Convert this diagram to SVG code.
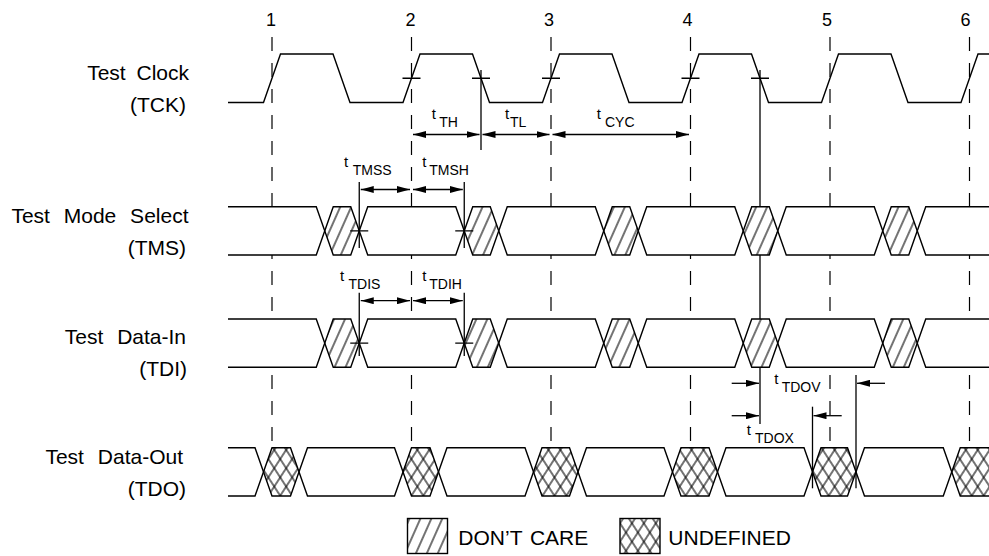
<svg xmlns="http://www.w3.org/2000/svg" xmlns:xlink="http://www.w3.org/1999/xlink" width="989" height="556" viewBox="0 0 989 556">
<style>
.lbl{font-family:"Liberation Sans",Arial,sans-serif;font-size:21px;fill:#000;word-spacing:8px}
.num{font-family:"Liberation Sans",Arial,sans-serif;font-size:18px;fill:#000;text-anchor:middle}
.tm{font-family:"Liberation Sans",Arial,sans-serif;font-size:15px;fill:#000}
.sub{font-size:14px}
.sig{fill:none;stroke:#000;stroke-width:1.4;stroke-linejoin:miter}
.dash{stroke:#000;stroke-width:1.2;stroke-dasharray:14 12;fill:none}
.ln{stroke:#000;stroke-width:1.3;fill:none}
.arr{stroke:#000;stroke-width:1.3;fill:none;marker-start:url(#ah);marker-end:url(#ah)}
.arr1{stroke:#000;stroke-width:1.3;fill:none;marker-end:url(#ah)}
.bg{fill:#fff;stroke:none}
.dc{fill:url(#hatch);stroke:none}
.xa{fill:url(#xa);stroke:none}
.xb{fill:url(#xb);stroke:none}
</style>
<defs>
<marker id="ah" markerUnits="userSpaceOnUse" markerWidth="13" markerHeight="7" refX="13" refY="3.5" orient="auto-start-reverse">
<path d="M0,0 L13,3.5 L0,7 z" fill="#000"/>
</marker>
<pattern id="hatch" width="10" height="10" patternUnits="userSpaceOnUse" patternTransform="rotate(24)">
<line x1="5" y1="-1" x2="5" y2="11" stroke="#000" stroke-width="1.1"/>
</pattern>
<pattern id="xa" width="10" height="10" patternUnits="userSpaceOnUse" patternTransform="rotate(33)">
<line x1="5" y1="-1" x2="5" y2="11" stroke="#000" stroke-width="1.1"/>
</pattern>
<pattern id="xb" width="10" height="10" patternUnits="userSpaceOnUse" patternTransform="rotate(-33)">
<line x1="5" y1="-1" x2="5" y2="11" stroke="#000" stroke-width="1.1"/>
</pattern>
</defs>
<rect width="989" height="556" fill="#fff"/>

<g id="labels">
<text class="lbl" x="189" y="80" text-anchor="end" style="word-spacing:5px">Test Clock</text>
<text class="lbl" x="186" y="111.7" text-anchor="end">(TCK)</text>
<text class="lbl" x="188.5" y="222.7" text-anchor="end">Test Mode Select</text>
<text class="lbl" x="186" y="255" text-anchor="end">(TMS)</text>
<text class="lbl" x="186" y="344" text-anchor="end">Test Data-In</text>
<text class="lbl" x="187" y="375.5" text-anchor="end">(TDI)</text>
<text class="lbl" x="183" y="464" text-anchor="end">Test Data-Out</text>
<text class="lbl" x="186" y="496" text-anchor="end">(TDO)</text>
</g>

<g id="edge-numbers">
<text class="num" x="271" y="26">1</text>
<text class="num" x="410.5" y="26">2</text>
<text class="num" x="549" y="26">3</text>
<text class="num" x="687.5" y="26">4</text>
<text class="num" x="827" y="26">5</text>
<text class="num" x="965.5" y="26">6</text>
</g>

<g id="edge-markers">
<line class="dash" x1="272" y1="37" x2="272" y2="496"/>
<line class="dash" x1="411.5" y1="37" x2="411.5" y2="496"/>
<line class="dash" x1="551" y1="37" x2="551" y2="496"/>
<line class="dash" x1="690.5" y1="37" x2="690.5" y2="496"/>
<line class="dash" x1="830" y1="37" x2="830" y2="496"/>
<line class="dash" x1="969.5" y1="37" x2="969.5" y2="496"/>
<line class="ln" x1="760" y1="70" x2="760" y2="424"/>
</g>

<g id="tck">
<path class="sig" d="M228,102.5 H263.5 L280.5,54 H333 L350,102.5 H403 L420,54 H472.5 L489.5,102.5 H542.5 L559.5,54 H612 L629,102.5 H682 L699,54 H751.5 L768.5,102.5 H821.5 L838.5,54 H891 L908,102.5 H961 L978,54 H990"/>
<path class="ln" d="M402.5,78.25 H420.5 M472,78.25 H490 M542,78.25 H560 M681.5,78.25 H699.5 M751,78.25 H769"/>
</g>

<g id="tms">
<rect class="bg" x="228" y="206.7" width="762" height="48.3"/>
<polygon class="dc" points="324.75,230.85 333.25,206.7 350.75,206.7 359.25,230.85 350.75,255 333.25,255"/>
<polygon class="dc" points="464.25,230.85 472.75,206.7 490.25,206.7 498.75,230.85 490.25,255 472.75,255"/>
<polygon class="dc" points="603.75,230.85 612.25,206.7 629.75,206.7 638.25,230.85 629.75,255 612.25,255"/>
<polygon class="dc" points="743.25,230.85 751.75,206.7 769.25,206.7 777.75,230.85 769.25,255 751.75,255"/>
<polygon class="dc" points="882.75,230.85 891.25,206.7 908.75,206.7 917.25,230.85 908.75,255 891.25,255"/>
<path class="sig" d="M228,206.7 H316.25 L333.25,255 H350.75 L367.75,206.7 H455.75 L472.75,255 H490.25 L507.25,206.7 H595.25 L612.25,255 H629.75 L646.75,206.7 H734.75 L751.75,255 H769.25 L786.25,206.7 H874.25 L891.25,255 H908.75 L925.75,206.7 H990"/>
<path class="sig" d="M228,255 H316.25 L333.25,206.7 H350.75 L367.75,255 H455.75 L472.75,206.7 H490.25 L507.25,255 H595.25 L612.25,206.7 H629.75 L646.75,255 H734.75 L751.75,206.7 H769.25 L786.25,255 H874.25 L891.25,206.7 H908.75 L925.75,255 H990"/>
<path class="ln" d="M350.25,230.85 H368.25 M455.25,230.85 H473.25"/>
</g>

<g id="tdi">
<rect class="bg" x="228" y="319" width="762" height="48.3"/>
<polygon class="dc" points="324.75,343.15 333.25,319 350.75,319 359.25,343.15 350.75,367.3 333.25,367.3"/>
<polygon class="dc" points="464.25,343.15 472.75,319 490.25,319 498.75,343.15 490.25,367.3 472.75,367.3"/>
<polygon class="dc" points="603.75,343.15 612.25,319 629.75,319 638.25,343.15 629.75,367.3 612.25,367.3"/>
<polygon class="dc" points="743.25,343.15 751.75,319 769.25,319 777.75,343.15 769.25,367.3 751.75,367.3"/>
<polygon class="dc" points="882.75,343.15 891.25,319 908.75,319 917.25,343.15 908.75,367.3 891.25,367.3"/>
<path class="sig" d="M228,319 H316.25 L333.25,367.3 H350.75 L367.75,319 H455.75 L472.75,367.3 H490.25 L507.25,319 H595.25 L612.25,367.3 H629.75 L646.75,319 H734.75 L751.75,367.3 H769.25 L786.25,319 H874.25 L891.25,367.3 H908.75 L925.75,319 H990"/>
<path class="sig" d="M228,367.3 H316.25 L333.25,319 H350.75 L367.75,367.3 H455.75 L472.75,319 H490.25 L507.25,367.3 H595.25 L612.25,319 H629.75 L646.75,367.3 H734.75 L751.75,319 H769.25 L786.25,367.3 H874.25 L891.25,319 H908.75 L925.75,367.3 H990"/>
<path class="ln" d="M350.25,343.15 H368.25 M455.25,343.15 H473.25"/>
</g>

<g id="tdo">
<rect class="bg" x="228" y="447.7" width="762" height="48.3"/>
<g id="tdo-undefined">
<polygon class="xa" points="263.5,471.85 272,447.7 290.5,447.7 299,471.85 290.5,496 272,496"/>
<polygon class="xb" points="263.5,471.85 272,447.7 290.5,447.7 299,471.85 290.5,496 272,496"/>
<polygon class="xa" points="403,471.85 411.5,447.7 430,447.7 438.5,471.85 430,496 411.5,496"/>
<polygon class="xb" points="403,471.85 411.5,447.7 430,447.7 438.5,471.85 430,496 411.5,496"/>
<polygon class="xa" points="533.5,471.85 542,447.7 569.5,447.7 578,471.85 569.5,496 542,496"/>
<polygon class="xb" points="533.5,471.85 542,447.7 569.5,447.7 578,471.85 569.5,496 542,496"/>
<polygon class="xa" points="672.5,471.85 681,447.7 709,447.7 717.5,471.85 709,496 681,496"/>
<polygon class="xb" points="672.5,471.85 681,447.7 709,447.7 717.5,471.85 709,496 681,496"/>
<polygon class="xa" points="812.5,471.85 821,447.7 847.5,447.7 856,471.85 847.5,496 821,496"/>
<polygon class="xb" points="812.5,471.85 821,447.7 847.5,447.7 856,471.85 847.5,496 821,496"/>
<polygon class="xa" points="951.75,471.85 960.25,447.7 995,447.7 995,496 960.25,496"/>
<polygon class="xb" points="951.75,471.85 960.25,447.7 995,447.7 995,496 960.25,496"/>
</g>
<path class="sig" d="M228,447.7 H255 L272,496 H290.5 L307.5,447.7 H394.5 L411.5,496 H430 L447,447.7 H525 L542,496 H569.5 L586.5,447.7 H664 L681,496 H709 L726,447.7 H804 L821,496 H847.5 L864.5,447.7 H943.25 L960.25,496 H990"/>
<path class="sig" d="M228,496 H255 L272,447.7 H290.5 L307.5,496 H394.5 L411.5,447.7 H430 L447,496 H525 L542,447.7 H569.5 L586.5,496 H664 L681,447.7 H709 L726,496 H804 L821,447.7 H847.5 L864.5,496 H943.25 L960.25,447.7 H990"/>
</g>

<g id="timing-connectors">
<line class="ln" x1="481" y1="70" x2="481" y2="150"/>
<line class="arr" x1="413" y1="134.5" x2="479.5" y2="134.5"/>
<line class="arr" x1="482.5" y1="134.5" x2="549.5" y2="134.5"/>
<line class="arr" x1="552.5" y1="134.5" x2="689" y2="134.5"/>
<line class="ln" x1="359.25" y1="182" x2="359.25" y2="248"/>
<line class="ln" x1="464.25" y1="182" x2="464.25" y2="248"/>
<line class="arr" x1="360.75" y1="189.5" x2="410" y2="189.5"/>
<line class="arr" x1="413" y1="189.5" x2="462.75" y2="189.5"/>
<line class="ln" x1="359.25" y1="292.7" x2="359.25" y2="356"/>
<line class="ln" x1="464.25" y1="292.7" x2="464.25" y2="356"/>
<line class="arr" x1="360.75" y1="300.7" x2="410" y2="300.7"/>
<line class="arr" x1="413" y1="300.7" x2="462.75" y2="300.7"/>
<line class="ln" x1="856" y1="375" x2="856" y2="488.3"/>
<line class="ln" x1="812.5" y1="406.7" x2="812.5" y2="488.3"/>
<line class="arr1" x1="731.7" y1="383.3" x2="759" y2="383.3"/>
<line class="arr1" x1="885" y1="383.3" x2="857" y2="383.3"/>
<line class="arr1" x1="731.7" y1="415.7" x2="759" y2="415.7"/>
<line class="arr1" x1="841.7" y1="415.7" x2="813.5" y2="415.7"/>
</g>

<g id="timing-labels">
<text class="tm" x="431.7" y="118.5">t<tspan class="sub" x="439.3" y="126.5">TH</tspan></text>
<text class="tm" x="505" y="118.5">t<tspan class="sub" x="510" y="126.5">TL</tspan></text>
<text class="tm" x="596.7" y="118.5">t<tspan class="sub" x="605" y="126.5">CYC</tspan></text>
<text class="tm" x="344" y="167">t<tspan class="sub" x="352.7" y="175">TMSS</tspan></text>
<text class="tm" x="422.3" y="167">t<tspan class="sub" x="429.3" y="175">TMSH</tspan></text>
<text class="tm" x="340" y="281">t<tspan class="sub" x="348.5" y="289">TDIS</tspan></text>
<text class="tm" x="422.3" y="281">t<tspan class="sub" x="429.3" y="289">TDIH</tspan></text>
<text class="tm" x="774.3" y="384">t<tspan class="sub" x="781.7" y="391.7">TDOV</tspan></text>
<text class="tm" x="746.7" y="435">t<tspan class="sub" x="755" y="442.7">TDOX</tspan></text>
</g>

<g id="legend">
<rect x="407.5" y="518.5" width="40" height="35" fill="url(#hatch)" stroke="#000" stroke-width="1.4"/>
<text class="lbl" x="458.3" y="545" style="word-spacing:2px">DON’T CARE</text>
<rect x="620" y="518.5" width="40" height="35" fill="url(#xa)" stroke="none"/>
<rect x="620" y="518.5" width="40" height="35" fill="url(#xb)" stroke="#000" stroke-width="1.4"/>
<text class="lbl" x="668.3" y="545">UNDEFINED</text>
</g>
</svg>
